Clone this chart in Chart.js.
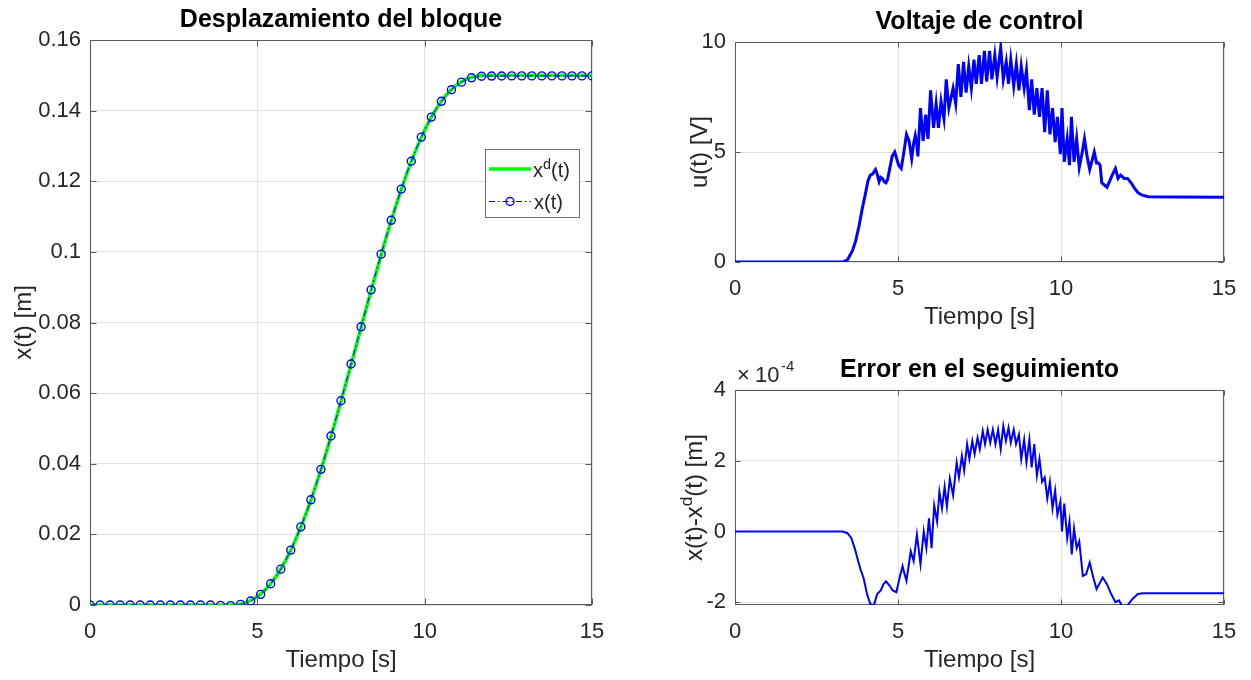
<!DOCTYPE html>
<html>
<head>
<meta charset="utf-8">
<script src="https://cdn.jsdelivr.net/npm/chart.js@4.4.1/dist/chart.umd.min.js"></script>
<style>
  html, body { margin: 0; padding: 0; background: #fff; }
  #lienzo { position: relative; width: 1251px; height: 680px; }
  #lienzo canvas { position: absolute; left: 0; top: 0; }
</style>
</head>
<body>
<div id="lienzo">
  <canvas id="graf-desp" width="1251" height="680"></canvas>
  <canvas id="graf-volt" width="1251" height="680"></canvas>
  <canvas id="graf-error" width="1251" height="680"></canvas>
</div>
<script>
// Desplazamiento: muestras cada 0.3 s (marcadores)
const tiempoMuestras = [0, 0.3, 0.6, 0.9, 1.2, 1.5, 1.8, 2.1, 2.4, 2.7, 3.0, 3.3, 3.6, 3.9,
  4.2, 4.5, 4.8, 5.1, 5.4, 5.7, 6.0, 6.3, 6.6, 6.9, 7.2, 7.5, 7.8, 8.1, 8.4, 8.7, 9.0,
  9.3, 9.6, 9.9, 10.2, 10.5, 10.8, 11.1, 11.4, 11.7, 12.0, 12.3, 12.6, 12.9, 13.2, 13.5,
  13.8, 14.1, 14.4, 14.7, 15.0];
const xDeseada = [0, 0, 0, 0, 0, 0, 0, 0, 0, 0, 0, 0, 0, 0,
  0.00002, 0.00033, 0.00128, 0.00314, 0.00608, 0.0102, 0.01553, 0.02204, 0.02966, 0.03823,
  0.04762, 0.0576, 0.06797, 0.07851, 0.08897, 0.09911, 0.10872, 0.11759, 0.12554, 0.13243,
  0.13816, 0.14268, 0.14601, 0.14821, 0.14944, 0.14992, 0.15, 0.15, 0.15, 0.15, 0.15, 0.15,
  0.15, 0.15, 0.15, 0.15, 0.15];
const xReal = [0, 0, 0, 0, 0, 0, 0, 0, 0, 0, 0, 0, -0.00002, -0.00012,
  -0.00019, 0.00017, 0.00112, 0.00302, 0.00601, 0.01015, 0.01554, 0.02213, 0.02979, 0.03841,
  0.04785, 0.05785, 0.06824, 0.07878, 0.08924, 0.09936, 0.10894, 0.11777, 0.12566, 0.1325,
  0.13816, 0.14264, 0.14591, 0.14806, 0.14929, 0.14973, 0.14979, 0.14981, 0.14983, 0.14983,
  0.14983, 0.14983, 0.14983, 0.14983, 0.14983, 0.14983, 0.14983];

// Voltaje de control u(t) [V]
const tiempoU = [0, 3.3, 3.45, 3.6, 3.7, 3.8, 3.9, 4.0, 4.08, 4.15, 4.22, 4.31, 4.36, 4.42,
  4.47, 4.52, 4.58, 4.63, 4.68, 4.74, 4.82, 4.9, 4.96, 5.02, 5.1, 5.18, 5.26, 5.34, 5.42,
  5.48, 5.53, 5.58, 5.61, 5.69, 5.77, 5.85, 5.92, 6.0, 6.09, 6.17, 6.24, 6.32, 6.41, 6.48,
  6.56, 6.69, 6.77, 6.85, 6.93, 7.01, 7.09, 7.17, 7.25, 7.33, 7.4, 7.49, 7.56, 7.65, 7.72,
  7.81, 7.88, 7.97, 8.04, 8.15, 8.23, 8.32, 8.39, 8.46, 8.55, 8.63, 8.71, 8.78, 8.87, 8.94,
  9.03, 9.1, 9.18, 9.26, 9.34, 9.42, 9.5, 9.58, 9.66, 9.74, 9.82, 9.89, 9.98, 10.03, 10.1,
  10.19, 10.26, 10.32, 10.4, 10.48, 10.56, 10.64, 10.72, 10.8, 10.88, 10.95, 11.02, 11.09,
  11.15, 11.2, 11.25, 11.33, 11.41, 11.5, 11.57, 11.67, 11.75, 11.83, 11.94, 12.04, 12.15,
  12.26, 12.36, 12.47, 12.68, 13.5, 15];
const voltajeU = [0, 0, 0.1, 0.5, 0.95, 1.6, 2.4, 3.1, 3.7, 3.95, 4.0, 4.2, 4.0, 3.65,
  3.85, 3.8, 3.65, 3.6, 3.75, 4.2, 4.8, 5.0, 4.7, 4.4, 4.25, 5.0, 5.8, 5.5, 4.7,
  5.4, 5.75, 5.3, 4.8, 7.0, 5.5, 6.7, 5.6, 7.8, 6.1, 7.2, 6.1, 7.3, 6.5, 8.3,
  7.0, 7.9, 7.2, 9.0, 7.5, 9.1, 7.7, 8.9, 7.9, 9.2, 8.1, 9.4, 8.1, 9.6, 8.2,
  9.6, 8.3, 9.4, 8.4, 9.75, 8.3, 9.1, 8.1, 9.2, 8.0, 9.0, 7.8, 8.9, 7.9, 8.7,
  6.9, 8.3, 6.7, 7.9, 6.6, 7.9, 5.9, 7.8, 5.8, 7.0, 5.45, 6.6, 4.9, 7.0, 4.55,
  5.6, 4.4, 6.6, 4.55, 5.6, 4.3, 4.9, 5.6, 4.8, 4.2, 4.6, 5.0, 4.5,
  4.5, 4.4, 3.6, 3.5, 3.4, 3.7, 3.95, 4.25, 3.8, 3.95, 3.8, 3.8, 3.6,
  3.35, 3.15, 3.05, 2.97, 2.95, 2.94];

// Error de seguimiento x(t)-xd(t), en unidades de 1e-4 m
const tiempoE = [0, 3.3, 3.45, 3.57, 3.68, 3.78, 3.86, 3.94, 4.05, 4.15, 4.26, 4.36, 4.47,
  4.55, 4.63, 4.74, 4.84, 4.95, 5.05, 5.14, 5.2, 5.26, 5.39, 5.48, 5.58, 5.69, 5.79, 5.87,
  5.95, 6.03, 6.11, 6.2, 6.27, 6.35, 6.43, 6.5, 6.59, 6.69, 6.8, 6.87, 6.96, 7.03, 7.12,
  7.19, 7.28, 7.35, 7.44, 7.51, 7.6, 7.67, 7.75, 7.83, 7.91, 7.99, 8.07, 8.15, 8.23, 8.31,
  8.39, 8.46, 8.55, 8.62, 8.71, 8.78, 8.87, 8.94, 9.03, 9.1, 9.18, 9.26, 9.34, 9.42, 9.5,
  9.58, 9.66, 9.74, 9.82, 9.89, 9.98, 10.03, 10.1, 10.19, 10.26, 10.33, 10.4, 10.48, 10.56,
  10.67, 10.77, 10.88, 10.99, 11.09, 11.2, 11.28, 11.41, 11.54, 11.67, 11.78, 11.89, 12.04,
  12.2, 12.36, 12.52, 15];
const errorE4 = [0, 0, -0.05, -0.19, -0.5, -0.84, -1.1, -1.3, -1.77, -2.05, -2.09, -1.77, -1.67,
  -1.5, -1.41, -1.53, -1.67, -1.72, -1.3, -0.98, -1.2, -1.4, -0.56, -0.84, -0.09, -0.93, 0, -0.47,
  0.37, -0.47, 0.74, 0.28, 1.12, 0.65, 1.26, 0.7, 1.49, 1.02, 1.95, 1.53, 2.14, 1.72, 2.47,
  2.05, 2.56, 2.19, 2.65, 2.33, 2.84, 2.47, 2.88, 2.51, 2.88, 2.47, 2.88, 2.33, 2.98, 2.56,
  2.93, 2.51, 2.88, 2.47, 2.74, 2.05, 2.6, 1.95, 2.6, 1.81, 2.47, 1.58, 2.05, 1.4, 1.53,
  0.93, 1.4, 0.65, 1.16, 0.47, 0.84, 0, 0.79, -0.19, 0.28, -0.65, 0.09, -0.47, -0.28,
  -1.26, -1.21, -0.88, -1.3, -1.63, -1.44, -1.3, -1.49, -1.77, -2.0, -1.95, -2.14, -2.09,
  -1.9, -1.77, -1.75, -1.75];

const ticksTiempo = [0, 5, 10, 15];
const ticksDesp = [0, 0.02, 0.04, 0.06, 0.08, 0.1, 0.12, 0.14, 0.16];
const ticksVolt = [0, 5, 10];
const ticksError = [-2, 0, 2, 4];

const FUENTE = '"Liberation Sans", Arial, Helvetica, sans-serif';
const GRIS_TEXTO = '#262626';

const pares = (xs, ys) => xs.map((x, i) => ({ x: x, y: ys[i] }));

// Escribe texto con superíndices: partes = [[texto, esSuper], ...]
function textoRico(ctx, partes, x, y, size, centrado) {
  const medir = p => { ctx.font = (p[1] ? size * 0.72 : size) + 'px ' + FUENTE; return ctx.measureText(p[0]).width; };
  const total = partes.reduce((s, p) => s + medir(p), 0);
  let cx = centrado ? x - total / 2 : x;
  ctx.textAlign = 'left';
  ctx.textBaseline = 'alphabetic';
  partes.forEach(p => {
    const w = medir(p);
    ctx.fillText(p[0], cx, p[1] ? y - size * 0.42 : y);
    cx += w;
  });
}

const marcoMatlab = {
  id: 'marcoMatlab',
  beforeDatasetsDraw(chart, args, op) {
    const { ctx, chartArea: a, scales } = chart;
    const l = Math.round(a.left) + 0.5, r = Math.round(a.right) - 0.5;
    const t = Math.round(a.top) + 0.5, b = Math.round(a.bottom) - 0.5;
    ctx.save();
    ctx.strokeStyle = '#5a5a5a';
    ctx.lineWidth = 1;
    ctx.strokeRect(l, t, r - l, b - t);
    const lt = op.largoTick;
    ctx.beginPath();
    scales.x.ticks.forEach(tk => {
      const px = Math.round(scales.x.getPixelForValue(tk.value)) + 0.5;
      ctx.moveTo(px, b); ctx.lineTo(px, b - lt);
      ctx.moveTo(px, t); ctx.lineTo(px, t + lt);
    });
    scales.y.ticks.forEach(tk => {
      const py = Math.round(scales.y.getPixelForValue(tk.value)) + 0.5;
      ctx.moveTo(l, py); ctx.lineTo(l + lt, py);
      ctx.moveTo(r, py); ctx.lineTo(r - lt, py);
    });
    ctx.stroke();
    ctx.restore();
  },
  afterDraw(chart, args, op) {
    const { ctx, chartArea: a } = chart;
    const cx = (a.left + a.right) / 2, cy = (a.top + a.bottom) / 2;
    ctx.save();
    // título
    ctx.fillStyle = '#000';
    ctx.font = 'bold 25px ' + FUENTE;
    ctx.textAlign = 'center';
    ctx.textBaseline = 'alphabetic';
    ctx.fillText(op.titulo, cx, a.top - 13);
    // etiqueta del eje x
    ctx.fillStyle = GRIS_TEXTO;
    textoRico(ctx, [[op.ejeX, false]], cx, a.bottom + 62, 24, true);
    // etiqueta del eje y (vertical)
    ctx.save();
    ctx.translate(a.left - op.sepEjeY, cy);
    ctx.rotate(-Math.PI / 2);
    textoRico(ctx, op.ejeY, 0, 0, 24, true);
    ctx.restore();
    // factor de escala
    if (op.factor) {
      ctx.font = '22px ' + FUENTE;
      ctx.textAlign = 'left';
      ctx.fillText('\u00d7', a.left + 2, a.top - 8);
      ctx.fillText('10', a.left + 20, a.top - 8);
      ctx.font = '15px ' + FUENTE;
      ctx.fillText(op.factor, a.left + 46, a.top - 19);
    }
    // leyenda
    if (op.leyenda) {
      const x0 = a.right - 107, y0 = a.top + 109;
      ctx.fillStyle = '#fff';
      ctx.fillRect(x0, y0, 94, 68);
      ctx.strokeStyle = '#6e6e6e';
      ctx.lineWidth = 1;
      ctx.strokeRect(x0 + 0.5, y0 + 0.5, 94, 68);
      const ds = chart.data.datasets;
      // x^d(t)
      ctx.strokeStyle = ds[0].borderColor;
      ctx.lineWidth = 3.5;
      ctx.beginPath(); ctx.moveTo(x0 + 4, y0 + 20); ctx.lineTo(x0 + 46, y0 + 20); ctx.stroke();
      ctx.fillStyle = GRIS_TEXTO;
      textoRico(ctx, op.leyenda[0], x0 + 48, y0 + 28, 20, false);
      // x(t)
      ctx.strokeStyle = ds[1].borderColor;
      ctx.lineWidth = 1;
      ctx.setLineDash(ds[1].borderDash);
      ctx.beginPath(); ctx.moveTo(x0 + 4, y0 + 52.5); ctx.lineTo(x0 + 46, y0 + 52.5); ctx.stroke();
      ctx.setLineDash([]);
      ctx.lineWidth = 1.4;
      ctx.beginPath(); ctx.arc(x0 + 25, y0 + 52.5, 4, 0, Math.PI * 2); ctx.stroke();
      textoRico(ctx, op.leyenda[1], x0 + 49, y0 + 60, 20, false);
    }
    ctx.restore();
  }
};

function escalas(yMin, yMax, ticksY, altoX) {
  const fmt = v => String(Number(v.toFixed(4)));
  return {
    x: {
      type: 'linear', min: 0, max: 15,
      afterFit: s => { s.height = altoX; },
      afterBuildTicks: s => { s.ticks = ticksTiempo.map(v => ({ value: v })); },
      grid: { color: '#e2e2e2', lineWidth: 1, drawTicks: false },
      border: { display: false },
      ticks: { padding: 14, color: GRIS_TEXTO, font: { family: FUENTE, size: 22 }, maxRotation: 0, callback: fmt }
    },
    y: {
      type: 'linear', min: yMin, max: yMax,
      afterFit: s => { s.width = 60; },
      afterBuildTicks: s => { s.ticks = ticksY.map(v => ({ value: v })); },
      grid: { color: '#e2e2e2', lineWidth: 1, drawTicks: false },
      border: { display: false },
      ticks: { padding: 9, color: GRIS_TEXTO, font: { family: FUENTE, size: 22 }, callback: fmt }
    }
  };
}

const comunes = {
  responsive: false,
  animation: false,
  devicePixelRatio: 1,
  events: [],
  plugins: { legend: { display: false }, tooltip: { enabled: false } }
};

// Desplazamiento del bloque
const escDesp = escalas(0, 0.16, ticksDesp, 75);
escDesp.y.afterFit = s => { s.width = 90; };
new Chart(document.getElementById('graf-desp'), {
  type: 'line',
  data: {
    datasets: [
      {
        label: 'xd(t)', data: pares(tiempoMuestras, xDeseada),
        borderColor: '#00ff00', borderWidth: 3.5, pointRadius: 0,
        cubicInterpolationMode: 'monotone', order: 2
      },
      {
        label: 'x(t)', data: pares(tiempoMuestras, xReal),
        borderColor: '#0000ff', borderWidth: 1, borderDash: [6, 3, 1.5, 3],
        pointRadius: 4, pointBorderWidth: 1.4, pointBorderColor: '#0000ff',
        pointBackgroundColor: 'rgba(0,0,0,0)', cubicInterpolationMode: 'monotone', order: 1
      }
    ]
  },
  options: Object.assign({}, comunes, {
    layout: { padding: { left: 0, right: 659, top: 40, bottom: 0 } },
    scales: escDesp,
    plugins: Object.assign({}, comunes.plugins, {
      marcoMatlab: {
        titulo: 'Desplazamiento del bloque', ejeX: 'Tiempo [s]',
        ejeY: [['x(t) [m]', false]], sepEjeY: 59, largoTick: 6,
        leyenda: [[['x', false], ['d', true], ['(t)', false]], [['x(t)', false]]]
      }
    })
  }),
  plugins: [marcoMatlab]
});

// Voltaje de control
new Chart(document.getElementById('graf-volt'), {
  type: 'line',
  data: {
    datasets: [{
      label: 'u(t)', data: pares(tiempoU, voltajeU),
      borderColor: '#0000ff', borderWidth: 3, pointRadius: 0, tension: 0
    }]
  },
  options: Object.assign({}, comunes, {
    layout: { padding: { left: 675, right: 27, top: 42, bottom: 358 } },
    scales: escalas(0, 10, ticksVolt, 60),
    plugins: Object.assign({}, comunes.plugins, {
      marcoMatlab: {
        titulo: 'Voltaje de control', ejeX: 'Tiempo [s]',
        ejeY: [['u(t) [V]', false]], sepEjeY: 28, largoTick: 5
      }
    })
  }),
  plugins: [marcoMatlab]
});

// Error en el seguimiento
new Chart(document.getElementById('graf-error'), {
  type: 'line',
  data: {
    datasets: [{
      label: 'x(t)-xd(t)', data: pares(tiempoE, errorE4),
      borderColor: '#0000ff', borderWidth: 2, pointRadius: 0, tension: 0
    }]
  },
  options: Object.assign({}, comunes, {
    layout: { padding: { left: 675, right: 27, top: 390, bottom: 0 } },
    scales: escalas(-2.08, 4, ticksError, 75),
    plugins: Object.assign({}, comunes.plugins, {
      marcoMatlab: {
        titulo: 'Error en el seguimiento', ejeX: 'Tiempo [s]',
        ejeY: [['x(t)-x', false], ['d', true], ['(t) [m]', false]], sepEjeY: 33, largoTick: 5,
        factor: '-4'
      }
    })
  }),
  plugins: [marcoMatlab]
});
</script>
</body>
</html>
